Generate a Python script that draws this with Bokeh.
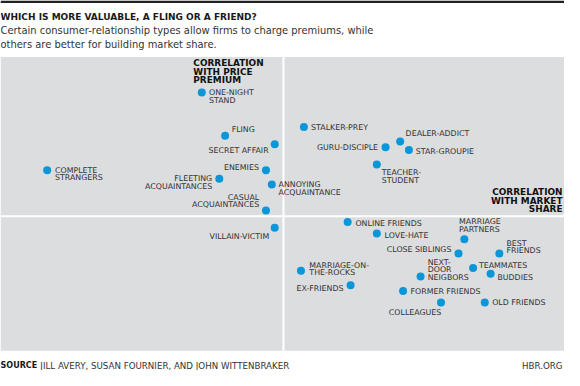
from bokeh.plotting import figure
from bokeh.models import Range1d, BoxAnnotation, Span, Label, ColumnDataSource
from bokeh.core.properties import value
from bokeh.embed import file_html
from bokeh.resources import INLINE

# ---------------- data ----------------
relationships = [
    "ONE-NIGHT\nSTAND", "FLING", "SECRET AFFAIR", "ENEMIES", "FLEETING\nACQUAINTANCES",
    "ANNOYING\nACQUAINTANCE", "CASUAL\nACQUAINTANCES", "COMPLETE\nSTRANGERS", "VILLAIN-VICTIM",
    "STALKER-PREY", "DEALER-ADDICT", "GURU-DISCIPLE", "STAR-GROUPIE", "TEACHER-\nSTUDENT",
    "ONLINE FRIENDS", "LOVE-HATE", "MARRIAGE\nPARTNERS", "CLOSE SIBLINGS", "BEST\nFRIENDS",
    "TEAMMATES", "NEXT-\nDOOR\nNEIGBORS", "BUDDIES", "MARRIAGE-ON-\nTHE-ROCKS", "EX-FRIENDS",
    "FORMER FRIENDS", "COLLEAGUES", "OLD FRIENDS",
]
market_share = [-0.28, -0.20, -0.03, -0.06, -0.22, -0.04, -0.06, -0.81, -0.03,
                0.07, 0.40, 0.35, 0.43, 0.32, 0.22, 0.32, 0.62, 0.60, 0.74,
                0.65, 0.47, 0.71, 0.06, 0.23, 0.41, 0.54, 0.69]
price_premium = [0.43, 0.28, 0.25, 0.16, 0.13, 0.11, 0.02, 0.16, -0.04,
                 0.31, 0.26, 0.24, 0.23, 0.18, -0.02, -0.06, -0.08, -0.13, -0.13,
                 -0.18, -0.21, -0.20, -0.19, -0.24, -0.26, -0.30, -0.30]

title_text = "WHICH IS MORE VALUABLE, A FLING OR A FRIEND?"
subtitle_lines = ["Certain consumer-relationship types allow firms to charge premiums, while",
                  "others are better for building market share."]
y_axis_label = ["CORRELATION", "WITH PRICE", "PREMIUM"]
x_axis_label = ["CORRELATION", "WITH MARKET", "SHARE"]
source_head = "SOURCE"
source_text = "JILL AVERY, SUSAN FOURNIER, AND JOHN WITTENBRAKER"
site_text = "HBR.ORG"

# ---------------- label layout (styling, reference pixels) ----------------
lab_align = ["left", "left", "right", "right", "right", "left", "right", "left", "right",
             "left", "left", "right", "left", "left", "left", "left", "left", "right", "left",
             "left", "left", "left", "left", "right", "left", "right", "left"]
lab_dx = [7.4, 6.7, -6.3, -7.3, -7.3, 7.0, -7.0, 8.0, -5.7,
          7.4, 5.6, -7.7, 7.0, 5.0, 8.0, 8.0, -5.4, -7.3, 7.3,
          6.0, 7.3, 7.0, 8.6, -7.3, 7.6, 0.3, 7.6]
lab_dy = [0, -6.3, 6.0, -2.6, 0, 0, -14, 0, 9.4,
          0, -8, 0, 1.7, 8.3, 1.3, 1.7, -18, -4.6, -11,
          -3, -15, 4, -6, 3, 0.7, 10.4, 0]

# ---------------- geometry ----------------
W, H = 564, 370
SX, SY = W / 580.0, H / 386.0
FS = 0.96


def X(px):
    return (px - 291) / 300.0


def Y(py):
    return (225 - py) / 300.0


def fpx(v):
    return "%.2fpx" % (v * FS)


p = figure(width=W, height=H, output_backend="svg", toolbar_location=None,
           x_range=Range1d(X(0), X(580)), y_range=Range1d(Y(386), Y(0)),
           x_axis_location=None, y_axis_location=None, min_border=0)
p.grid.visible = False
p.outline_line_color = None
p.background_fill_color = "white"
p.border_fill_color = "white"

# decorations (drawn beneath the points)
p.add_layout(BoxAnnotation(left=X(0), right=X(580), top=Y(0), bottom=Y(2.7), level="underlay",
                           fill_color="#231f20", fill_alpha=1, line_alpha=0))
p.add_layout(BoxAnnotation(left=X(0), right=X(580), top=Y(59), bottom=Y(365.5), level="underlay",
                           fill_color="#dcdddf", fill_alpha=1, line_alpha=0))
p.add_layout(Span(location=0, dimension="width", line_color="white", line_width=2,
                  level="underlay"))
p.add_layout(BoxAnnotation(left=-0.0035, right=0.0035, top=Y(59), bottom=Y(365.5),
                           level="underlay", fill_color="white", fill_alpha=1, line_alpha=0))

# points
p.scatter(market_share, price_premium, size=8, color="#0a96d8", line_color=None)

# labels: one entry per text line
lx, ly, lt, la, lxo, lyo = [], [], [], [], [], []
for name, xv, yv, al, dx, dy in zip(relationships, market_share, price_premium,
                                     lab_align, lab_dx, lab_dy):
    for i, line in enumerate(name.split("\n")):
        lx.append(xv)
        ly.append(yv)
        lt.append(line)
        la.append(al)
        lxo.append(dx * SX)
        lyo.append((dy + 8.0 * i) * SY)
src = ColumnDataSource(dict(x=lx, y=ly, text=lt, align=la, xo=lxo, yo=lyo))
p.text(x="x", y="y", text="text", source=src, text_align="align", x_offset="xo",
       y_offset="yo", text_baseline="middle", text_font=value("DejaVu Sans"),
       text_font_size=value(fpx(8.2)), text_color="#333333")

# quadrant labels
for i, line in enumerate(y_axis_label):
    p.add_layout(Label(x=X(198.3), y=Y(65.7 + 8.8 * i), text=line, text_align="left",
                       text_baseline="middle", text_font="DejaVu Sans", text_font_style="bold",
                       text_font_size=fpx(9.3), text_color="#111111"))
for i, line in enumerate(x_axis_label):
    p.add_layout(Label(x=X(578), y=Y(200.3 + 8.8 * i), text=line, text_align="right",
                       text_baseline="middle", text_font="DejaVu Sans", text_font_style="bold",
                       text_font_size=fpx(9.3), text_color="#111111"))

# title / subtitle / footer
p.add_layout(Label(x=X(0), y=Y(17.3), text=title_text, text_baseline="alphabetic",
                   text_font="DejaVu Sans", text_font_style="bold", text_font_size=fpx(9.4),
                   text_color="#1a1a1a"))
for i, line in enumerate(subtitle_lines):
    p.add_layout(Label(x=X(0), y=Y(31 + 14.5 * i), text=line, text_baseline="alphabetic",
                       text_font="DejaVu Sans", text_font_size=fpx(10.35), text_color="#333333"))
p.add_layout(Label(x=X(0), y=Y(381), text=source_head, text_baseline="alphabetic",
                   text_font="DejaVu Sans", text_font_style="bold", text_font_size=fpx(8.4),
                   text_color="#1a1a1a"))
p.add_layout(Label(x=X(41), y=Y(381), text=source_text, text_baseline="alphabetic",
                   text_font="DejaVu Sans", text_font_size=fpx(9.05), text_color="#333333"))
p.add_layout(Label(x=X(578), y=Y(381), text=site_text, text_align="right",
                   text_baseline="alphabetic", text_font="DejaVu Sans",
                   text_font_size=fpx(9.05), text_color="#333333"))

open("out.html", "w").write(file_html(p, INLINE))
